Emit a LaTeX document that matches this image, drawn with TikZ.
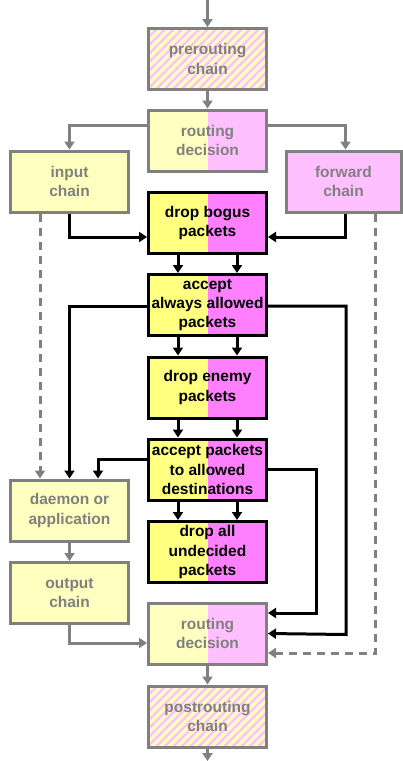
\documentclass[tikz,border=0pt]{standalone}
\usepackage{fontspec}
\newfontfamily\boxfont{Liberation Sans}
\usetikzlibrary{arrows.meta}
\definecolor{lg}{HTML}{808080}
\definecolor{ly}{HTML}{FFFFC0}
\definecolor{lp}{HTML}{FFC0FF}
\definecolor{by}{HTML}{FFFF80}
\definecolor{bp}{HTML}{FF80FF}
\tikzset{
  boxbase/.style={rectangle, line width=3pt, minimum width=118pt, minimum height=61pt,
    inner sep=0pt, align=center, font={\boxfont\bfseries\fontsize{15.5}{19.3}\selectfont}},
  gbox/.style={boxbase, draw=lg, text=lg},
  bbox/.style={boxbase, draw=black, text=black},
  halfsplit/.style 2 args={path picture={
    \fill[#1] (path picture bounding box.south west) rectangle (path picture bounding box.north);
    \fill[#2] (path picture bounding box.south) rectangle (path picture bounding box.north east);}},
  stripes/.style={path picture={
    \fill[lp] (path picture bounding box.south west) rectangle (path picture bounding box.north east);
    \foreach \i in {-20,...,20}
      \draw[ly, line width=3.2pt] ([shift={(\i*8.5pt-60pt,-60pt)}]path picture bounding box.center) -- ++(120pt,120pt);}},
  garrow/.style={draw=lg, line width=3pt, -{Triangle[length=8pt,width=10pt]}},
  barrow/.style={draw=black, line width=3pt, -{Triangle[length=8pt,width=10pt]}},
  dline/.style={dash pattern=on 8pt off 6pt}
}
\begin{document}
\begin{tikzpicture}[x=1pt,y=-1pt]
\useasboundingbox (0,0) rectangle (403,761);
% nodes
\node[gbox, stripes] (pre) at (207.5,59) {prerouting\\chain};
\node[gbox, halfsplit={ly}{lp}] (rd1) at (207.5,140.5) {routing\\decision};
\node[gbox, fill=ly] (in) at (69.5,181.5) {input\\chain};
\node[gbox, fill=lp, minimum width=115pt] (fw) at (343.5,181.5) {forward\\chain};
\node[bbox, halfsplit={by}{bp}] (bog) at (207.5,223) {drop bogus\\packets};
\node[bbox, halfsplit={by}{bp}] (aa) at (207.5,305) {accept\\always allowed\\packets};
\node[bbox, halfsplit={by}{bp}] (en) at (207.5,387.5) {drop enemy\\packets};
\node[bbox, halfsplit={by}{bp}] (ad) at (207.5,469.5) {accept packets\\to allowed\\destinations};
\node[bbox, halfsplit={by}{bp}] (da) at (207.5,552) {drop all\\undecided\\packets};
\node[gbox, fill=ly] (dm) at (69.5,510.5) {daemon or\\application};
\node[gbox, fill=ly] (out) at (69.5,593) {output\\chain};
\node[gbox, halfsplit={ly}{lp}] (rd2) at (207.5,633.5) {routing\\decision};
\node[gbox, stripes] (post) at (207.5,716.5) {postrouting\\chain};
\coordinate (topin) at (207.5,0);
\coordinate (botout) at (207.5,761);
% gray connectors
\draw[garrow] (topin) -- (pre.north);
\draw[garrow] (pre.south) -- (rd1.north);
\draw[garrow] ([yshift=15.5pt]rd1.west) -| (in.north);
\draw[garrow] ([yshift=15.5pt]rd1.east) -| ([xshift=2pt]fw.north);
\draw[garrow, dline] ([xshift=-29.5pt]in.south) -- ([xshift=-29.5pt]dm.north);
\draw[garrow, dline] ([xshift=31.5pt]fw.south) |- ([yshift=-19.5pt]rd2.east);
\draw[garrow] (dm.south) -- (out.north);
\draw[garrow] (out.south) |- ([yshift=-9.5pt]rd2.west);
\draw[garrow] (rd2.south) -- (post.north);
\draw[garrow] (post.south) -- (botout);
% black connectors
\draw[barrow] (in.south) |- ([yshift=-14pt]bog.west);
\draw[barrow] ([xshift=2pt]fw.south) |- ([yshift=-14pt]bog.east);
\foreach \a/\b in {bog/aa, aa/en, en/ad, ad/da} {
  \draw[barrow] ([xshift=-29.5pt]\a.south) -- ([xshift=-29.5pt]\b.north);
  \draw[barrow] ([xshift=29.5pt]\a.south) -- ([xshift=29.5pt]\b.north);
}
\draw[barrow] ([yshift=-1pt]aa.west) -| (dm.north);
\draw[barrow] ([yshift=-1pt]aa.east) -| ([xshift=78pt,yshift=-1pt]aa.east |- rd2.east) -- (rd2.east);
\draw[barrow] ([yshift=10.5pt]ad.west) -| ([xshift=28.5pt]dm.north);
\draw[barrow] (ad.east) -| ([xshift=48pt]ad.east |- 0,613) -- ([yshift=20.5pt]rd2.east);
\end{tikzpicture}
\end{document}
